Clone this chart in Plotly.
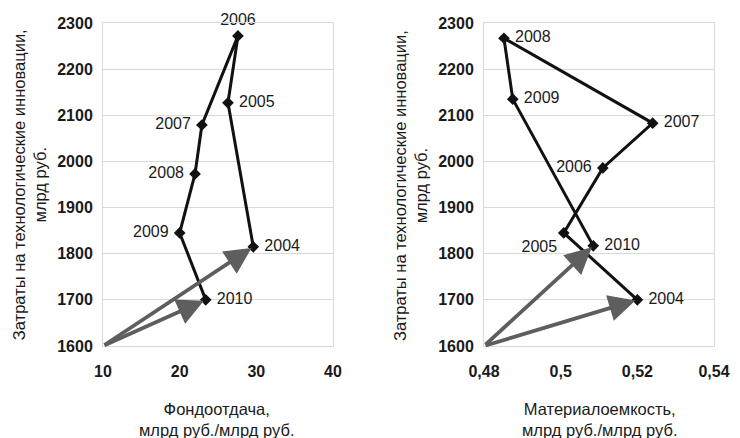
import plotly.graph_objects as go

years = ["2004", "2005", "2006", "2007", "2008", "2009", "2010"]
costs_left = [1815, 2127, 2272, 2079, 1973, 1845, 1700]
fondootdacha = [29.6, 26.3, 27.6, 22.9, 22.0, 20.0, 23.4]
costs_right = [1700, 1845, 1986, 2083, 2267, 2135, 1817]
materialoemkost = [0.520, 0.5008, 0.5110, 0.5240, 0.4852, 0.4875, 0.5085]
pos_left = ["middle right", "middle right", "top center", "middle left", "middle left", "middle left", "middle right"]
pos_right = ["middle right", "bottom left", "middle left", "middle right", "middle right", "middle right", "middle right"]

y_ticks = [1600, 1700, 1800, 1900, 2000, 2100, 2200, 2300]
x_left_ticks = [10, 20, 30, 40]
x_right_ticks = [0.48, 0.50, 0.52, 0.54]
x_right_labels = ["0,48", "0,5", "0,52", "0,54"]

y_title = "Затраты на технологические инновации,<br>млрд руб."
x_left_title = "Фондоотдача,<br>млрд руб./млрд руб."
x_right_title = "Материалоемкость,<br>млрд руб./млрд руб."

FONT = "Liberation Sans, Arial, sans-serif"
fig = go.Figure()

def pad(labels, positions):
    out = []
    for l, p in zip(labels, positions):
        if p == "middle right":
            out.append(" " + l)
        elif p == "middle left":
            out.append(l + " ")
        else:
            out.append(l)
    return out

fig.add_trace(go.Scatter(
    x=fondootdacha, y=costs_left, mode="lines+markers+text",
    text=pad(years, pos_left), textposition=pos_left,
    textfont=dict(family=FONT, size=16, color="#1a1a1a"),
    line=dict(color="#111111", width=3),
    marker=dict(symbol="diamond", size=9, color="#111111"),
    xaxis="x", yaxis="y", showlegend=False, cliponaxis=False))

fig.add_trace(go.Scatter(
    x=materialoemkost, y=costs_right, mode="lines+markers+text",
    text=pad(years, pos_right), textposition=pos_right,
    textfont=dict(family=FONT, size=16, color="#1a1a1a"),
    line=dict(color="#111111", width=3),
    marker=dict(symbol="diamond", size=9, color="#111111"),
    xaxis="x2", yaxis="y2", showlegend=False, cliponaxis=False))

annotations = []
# gray arrows from axis origin to 2004 and 2010
for idx in (0, 6):
    annotations.append(dict(x=fondootdacha[idx], y=costs_left[idx], ax=x_left_ticks[0], ay=y_ticks[0],
                            xref="x", yref="y", axref="x", ayref="y", showarrow=True,
                            arrowhead=2, arrowsize=1.4, arrowwidth=3.8, arrowcolor="#5e5e5e",
                            text="", standoff=2))
    annotations.append(dict(x=materialoemkost[idx], y=costs_right[idx], ax=x_right_ticks[0], ay=y_ticks[0],
                            xref="x2", yref="y2", axref="x2", ayref="y2", showarrow=True,
                            arrowhead=2, arrowsize=1.4, arrowwidth=3.8, arrowcolor="#5e5e5e",
                            text="", standoff=2))

for xc, txt in ((0.0287, y_title), (0.549, y_title)):
    annotations.append(dict(x=xc, y=0.588, xref="paper", yref="paper", xanchor="center", yanchor="middle",
                            text=txt, showarrow=False,
                            textangle=-90, font=dict(family=FONT, size=16.5, color="#1a1a1a")))
for xc, txt in ((0.2855, x_left_title), (0.8087, x_right_title)):
    annotations.append(dict(x=xc, y=0.044, xref="paper", yref="paper", xanchor="center", yanchor="middle",
                            text=txt, showarrow=False, font=dict(family=FONT, size=16.5, color="#1a1a1a")))

axis_common = dict(showline=True, linecolor="#d9d9d9", linewidth=1, mirror=True, ticks="",
                   tickfont=dict(family=FONT, size=16, color="#1a1a1a", weight="bold"),
                   zeroline=False, automargin=False)

# page body has an 8px margin: size the figure to fill the remaining window
fig.update_layout(
    width=732, height=430, margin=dict(l=0, r=0, t=0, b=0, autoexpand=False),
    paper_bgcolor="white", plot_bgcolor="white",
    xaxis=dict(domain=[0.1298, 0.444], range=[10, 40], tickvals=x_left_ticks, showgrid=False,
               anchor="y", ticklabelstandoff=11, **axis_common),
    yaxis=dict(domain=[0.214, 0.9651], range=[1600, 2300], tickvals=y_ticks, showgrid=True,
               gridcolor="#d9d9d9", anchor="x", ticklabelstandoff=6, **axis_common),
    xaxis2=dict(domain=[0.6503, 0.9645], range=[0.48, 0.54], tickvals=x_right_ticks,
                ticktext=x_right_labels, showgrid=False, anchor="y2", ticklabelstandoff=11, **axis_common),
    yaxis2=dict(domain=[0.214, 0.9651], range=[1600, 2300], tickvals=y_ticks, showgrid=True,
                gridcolor="#d9d9d9", anchor="x2", ticklabelstandoff=6, **axis_common),
    annotations=annotations,
)

fig.write_html("out.html")
